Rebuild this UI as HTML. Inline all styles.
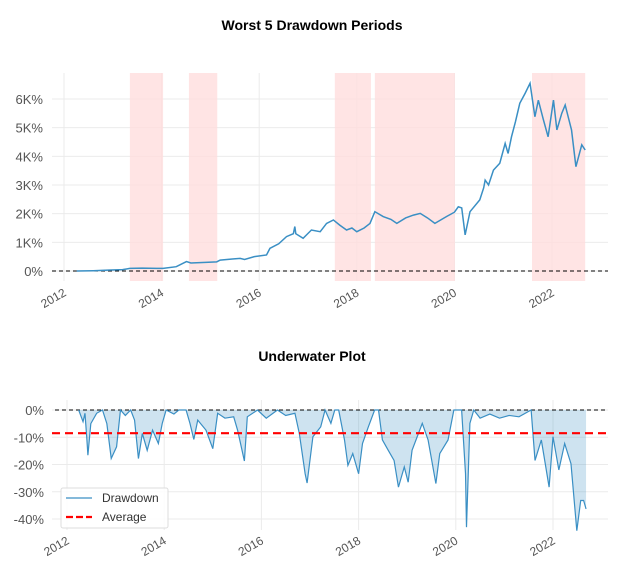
<!DOCTYPE html>
<html><head><meta charset="utf-8"><style>
body{margin:0;background:#fff;}
svg{display:block;font-family:"Liberation Sans",sans-serif;}
</style></head><body>
<svg id="c" width="621" height="574" viewBox="0 0 621 574"></svg>
<script>
const equityYears=[2012.26,2012.6,2012.9,2013.2,2013.35,2013.6,2013.9,2014.03,2014.3,2014.51,2014.6,2014.9,2015.13,2015.2,2015.45,2015.61,2015.7,2015.9,2016.15,2016.22,2016.4,2016.56,2016.7,2016.73,2016.75,2016.9,2017.07,2017.25,2017.38,2017.52,2017.65,2017.79,2017.9,2018.0,2018.15,2018.27,2018.37,2018.54,2018.7,2018.82,2019.0,2019.16,2019.3,2019.45,2019.6,2019.84,2020.0,2020.08,2020.15,2020.22,2020.32,2020.52,2020.6,2020.63,2020.7,2020.8,2020.93,2021.04,2021.1,2021.17,2021.25,2021.34,2021.45,2021.55,2021.65,2021.72,2021.82,2021.92,2022.03,2022.1,2022.2,2022.27,2022.4,2022.49,2022.61,2022.68];
const equityValues=[0,0.01,0.03,0.05,0.09,0.1,0.09,0.09,0.15,0.33,0.28,0.3,0.32,0.38,0.42,0.44,0.4,0.5,0.56,0.79,0.95,1.2,1.3,1.55,1.3,1.14,1.43,1.37,1.66,1.78,1.6,1.43,1.5,1.37,1.5,1.66,2.07,1.9,1.8,1.66,1.85,1.95,2.01,1.85,1.66,1.9,2.05,2.24,2.2,1.26,2.07,2.48,2.9,3.17,3.0,3.52,3.76,4.45,4.1,4.68,5.2,5.85,6.2,6.55,5.38,5.96,5.3,4.68,5.96,4.92,5.5,5.79,4.92,3.64,4.4,4.22];
const periodStarts=[2013.35,2014.56,2017.55,2018.37,2021.59];
const periodEnds=[2014.03,2015.14,2018.29,2020.01,2022.68];
const yTicksTop=[0,1,2,3,4,5,6];
const yTickLabelsTop=["0%","1K%","2K%","3K%","4K%","5K%","6K%"];
const xTickYears=[2012,2014,2016,2018,2020,2022];
const ddYears=[2012.24,2012.33,2012.37,2012.41,2012.43,2012.49,2012.61,2012.73,2012.82,2012.91,2013.02,2013.1,2013.2,2013.31,2013.39,2013.47,2013.55,2013.65,2013.76,2013.88,2013.96,2014.04,2014.2,2014.3,2014.45,2014.53,2014.61,2014.69,2014.86,2015.0,2015.1,2015.25,2015.43,2015.51,2015.65,2015.71,2015.92,2016.1,2016.33,2016.5,2016.69,2016.78,2016.9,2016.94,2017.06,2017.22,2017.31,2017.43,2017.51,2017.59,2017.71,2017.78,2017.88,2018.0,2018.08,2018.2,2018.33,2018.41,2018.49,2018.61,2018.73,2018.82,2018.94,2019.02,2019.1,2019.31,2019.43,2019.59,2019.67,2019.84,2019.96,2020.12,2020.2,2020.22,2020.29,2020.37,2020.5,2020.7,2020.9,2021.1,2021.3,2021.55,2021.63,2021.76,2021.92,2022.0,2022.12,2022.24,2022.37,2022.49,2022.57,2022.63,2022.68];
const ddValues=[0,-4.3,-1.2,-11,-16.6,-5,-1.2,0,-5,-17.8,-13.5,0,-2,0,-3.7,-17.8,-8.6,-14.8,-7.4,-12.3,-4.9,0,-1.5,0,0,-4.9,-10.8,-3.7,-7.4,-14.2,-1.2,-3,-2.5,-7.4,-18.7,-2.5,0,-3,0,-2,-1.2,-8.6,-23.4,-26.8,-9.8,-6.2,0,-4.9,0,0,-11,-20.3,-16,-23.4,-12.3,-6.2,0,0,-11,-14.8,-18.5,-28.3,-20.9,-26.5,-14.8,-4.9,-11,-27,-16,-11,0,0,-23.4,-43,-4.9,0,-3,-1.5,-3,-2,-2.5,0,-18.5,-11,-28.3,-9.8,-22,-12.3,-19.7,-44.3,-33.2,-33.2,-36.3];
const ddAverage=[-8.5];
const yTicksBot=[0,-10,-20,-30,-40];
const yTickLabelsBot=["0%","-10%","-20%","-30%","-40%"];

const svg=document.getElementById('c');
const NS="http://www.w3.org/2000/svg";
function mk(tag,attrs,parent){const e=document.createElementNS(NS,tag);for(const k in attrs)e.setAttribute(k,attrs[k]);(parent||svg).appendChild(e);return e;}
const xT=y=>64+(y-2012)*48.8, yT=v=>271-v*28.67;
const xB=y=>67+(y-2012)*48.6, yB=v=>410-v*2.725;

let t=mk('text',{x:312,y:30,'text-anchor':'middle','font-size':14,'font-weight':'bold',fill:'#000'});t.textContent="Worst 5 Drawdown Periods";


t=mk('text',{x:312,y:361,'text-anchor':'middle','font-size':14,'font-weight':'bold',fill:'#000'});t.textContent="Underwater Plot";



yTicksTop.forEach((v,i)=>{
  const l=mk('line',{x1:52,x2:608,y1:yT(v),y2:yT(v),stroke:'#ebebeb','stroke-width':1});
  
  
  const tx=mk('text',{x:43,y:yT(v)+5,'text-anchor':'end','font-size':13,fill:'#555'});tx.textContent=yTickLabelsTop[i];
  
  
});
xTickYears.forEach(y=>{
  const l=mk('line',{x1:xT(y),x2:xT(y),y1:73,y2:281,stroke:'#ebebeb','stroke-width':1});
  
  
  const tx=mk('text',{x:xT(y)+3,y:295,'text-anchor':'end','font-size':12,fill:'#555',transform:`rotate(-30 ${xT(y)+3} 295)`});tx.textContent=y;
  
  
});
periodStarts.forEach((s,i)=>{
  const r=mk('rect',{x:xT(s),y:73,width:xT(periodEnds[i])-xT(s),height:208,fill:'#fdd',opacity:0.8});
  
  
});
let zl=mk('line',{x1:52,x2:608,y1:yT(0),y2:yT(0),stroke:'#000','stroke-width':1,'stroke-dasharray':'4,3'});


let p=mk('polyline',{points:equityYears.map((y,i)=>xT(y)+','+yT(equityValues[i])).join(' '),fill:'none',stroke:'#3a8fc4','stroke-width':1.5});



yTicksBot.forEach((v,i)=>{
  const l=mk('line',{x1:52,x2:608,y1:yB(v),y2:yB(v),stroke:'#ebebeb','stroke-width':1});
  
  
  const tx=mk('text',{x:44,y:yB(v)+5,'text-anchor':'end','font-size':13,fill:'#555'});tx.textContent=yTickLabelsBot[i];
  
  
});
xTickYears.forEach(y=>{
  const l=mk('line',{x1:xB(y),x2:xB(y),y1:400,y2:530,stroke:'#ebebeb','stroke-width':1});
  
  
  const tx=mk('text',{x:xB(y)+3,y:543,'text-anchor':'end','font-size':12,fill:'#555',transform:`rotate(-30 ${xB(y)+3} 543)`});tx.textContent=y;
  
  
});
const pts=ddYears.map((y,i)=>xB(y)+','+yB(ddValues[i]));
let a=mk('polygon',{points:xB(ddYears[0])+','+yB(0)+' '+pts.join(' ')+' '+xB(ddYears[ddYears.length-1])+','+yB(0),fill:'#3a8fc4','fill-opacity':0.25});


zl=mk('line',{x1:55,x2:608,y1:yB(0),y2:yB(0),stroke:'#000','stroke-width':1,'stroke-dasharray':'4,3'});


p=mk('polyline',{points:pts.join(' '),fill:'none',stroke:'#3a8fc4','stroke-width':1.2});


let av=mk('line',{x1:52,x2:608,y1:yB(ddAverage[0]),y2:yB(ddAverage[0]),stroke:'#f00','stroke-width':2.2,'stroke-dasharray':'8,5'});



const g=mk('g',{});


mk('rect',{x:61,y:488,width:107,height:40,fill:'#fff','fill-opacity':0.85,stroke:'#ddd',rx:2},g);
let e=mk('line',{x1:66,x2:92,y1:498,y2:498,stroke:'#3a8fc4','stroke-width':1.2},g);


let lt=mk('text',{x:102,y:502,'font-size':12,fill:'#333'},g);lt.textContent="Drawdown";


e=mk('line',{x1:66,x2:92,y1:517,y2:517,stroke:'#f00','stroke-width':2.2,'stroke-dasharray':'7,3'},g);


lt=mk('text',{x:102,y:521,'font-size':12,fill:'#333'},g);lt.textContent="Average";


</script>
</body></html>
